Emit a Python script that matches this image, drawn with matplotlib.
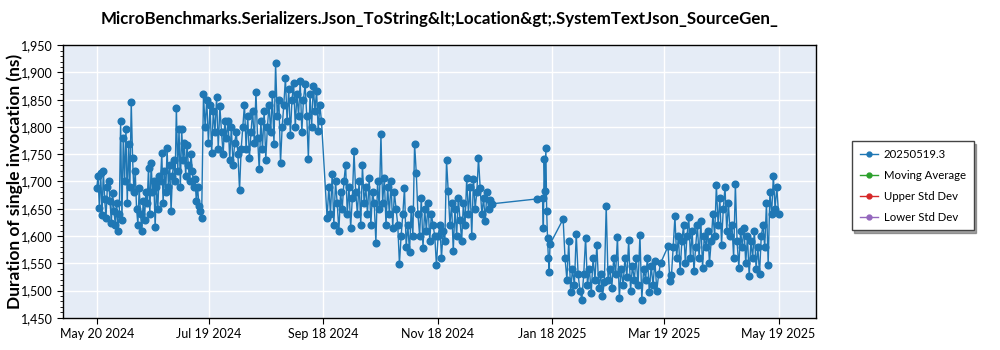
import matplotlib.pyplot as plt
import matplotlib.dates as mdates
import matplotlib.ticker as mticker
from matplotlib.lines import Line2D
import pandas as pd

plt.rcParams['font.family'] = ['Lato', 'DejaVu Sans']

title = "MicroBenchmarks.Serializers.Json_ToString&lt;Location&gt;.SystemTextJson_SourceGen_"
series_name = "20250519.3"
legend_names = ["20250519.3", "Moving Average", "Upper Std Dev", "Lower Std Dev"]
legend_colors = ["#1f77b4", "#2ca02c", "#d62728", "#9467bd"]

# period bounds (start, end) of each run of results
periods = [
    ("2024-05-20", "2024-07-15"),
    ("2024-07-16", "2024-09-17"),
    ("2024-09-20", "2024-12-17"),
    ("2025-01-10", "2025-01-10"),
    ("2025-01-13", "2025-01-17"),
    ("2025-01-24", "2025-03-17"),
    ("2025-03-21", "2025-05-19"),
]

vals_may_jul = [
    1688, 1710, 1652, 1716, 1639, 1719, 1667, 1633, 1690, 1700,
    1665, 1624, 1679, 1645, 1621, 1660, 1609, 1640, 1811, 1630,
    1780, 1700, 1796, 1660, 1769, 1690, 1846, 1743, 1680, 1720, 1650,
    1621, 1688, 1640, 1609, 1665, 1630, 1680,
    1660, 1725, 1640, 1734, 1680, 1700, 1616, 1690, 1650, 1710,
    1700, 1753, 1660, 1720, 1680, 1761, 1690, 1730, 1645, 1710,
    1740, 1700, 1835, 1720, 1796, 1690, 1796, 1740, 1771, 1710, 1767, 1730, 1700, 1750,
    1720, 1690, 1705, 1665, 1690, 1655, 1645, 1633,
]

vals_jul_sep = [
    1860, 1800, 1850, 1770, 1840, 1752, 1830, 1790, 1855, 1760, 1838, 1790, 1750, 1810,
    1780, 1811, 1740, 1800, 1731, 1770, 1790, 1750, 1684, 1760,
    1800, 1841, 1760, 1820, 1743, 1790, 1830, 1770,
    1865, 1780, 1722, 1810, 1760, 1830, 1740, 1800,
    1840, 1790, 1860, 1768, 1917, 1820, 1850, 1734, 1800,
    1840, 1890, 1810, 1870, 1786, 1850, 1880, 1800, 1860, 1820, 1885, 1790, 1850,
    1878, 1820, 1742, 1860, 1800, 1875, 1830, 1866, 1793, 1840, 1810,
]

vals_sep_dec = [
    1633, 1690, 1640, 1713, 1620, 1700, 1660, 1609, 1680, 1650,
    1700, 1731, 1640, 1690, 1615, 1670, 1755,
    1680, 1640, 1700, 1620, 1730, 1660,
    1690, 1640, 1707, 1620, 1680, 1660, 1588, 1700, 1650,
    1787,
    1660, 1707, 1620, 1690, 1640, 1700, 1615, 1680, 1650,
    1620, 1549, 1600, 1640, 1688, 1580, 1620, 1570, 1650, 1600,
    1769, 1716,
    1640, 1600, 1670, 1578, 1650, 1610, 1660, 1590, 1640, 1620, 1600,
    1546,
    1600, 1621, 1560, 1610, 1590,
    1739,
    1682, 1620, 1660, 1572, 1650, 1600, 1670, 1630, 1590, 1660, 1620,
    1707, 1640, 1690, 1600, 1705, 1650, 1680,
    1743,
    1688, 1640, 1670, 1627, 1680, 1650, 1666, 1659,
]

vals_jan_single = [1668]

vals_jan_cluster = [1670, 1615, 1742, 1682, 1761, 1645, 1596, 1560, 1534, 1585]

vals_jan_mar = [
    1631,
    1560, 1520, 1590, 1498, 1540, 1510, 1604, 1530, 1500,
    1483, 1530, 1597, 1510, 1540, 1495, 1560, 1520, 1584, 1505, 1530, 1490, 1515,
    1655,
    1520, 1540, 1505, 1560, 1530, 1598, 1486, 1540, 1510, 1560, 1525, 1592, 1500, 1545, 1520, 1560, 1510,
    1602, 1483,
    1540, 1520, 1560, 1498, 1545, 1510, 1555, 1500, 1530, 1550,
]

vals_mar_may = [
    1581, 1518, 1529,
    1580, 1636, 1560, 1600, 1535, 1590, 1620, 1550,
    1600, 1635, 1560, 1609, 1535, 1580,
    1620, 1560, 1627, 1541, 1600, 1580, 1610, 1550, 1590,
    1640, 1600, 1693, 1620, 1670, 1584, 1650, 1690, 1610, 1660,
    1600, 1621, 1560, 1695, 1590, 1542, 1610,
    1580, 1615, 1550, 1600, 1526, 1590, 1560, 1610, 1540, 1580, 1530, 1600,
    1620, 1580, 1660, 1547, 1680, 1640, 1710, 1650, 1690, 1640,
]

xtick_dates = ["2024-05-20", "2024-07-19", "2024-09-18", "2024-11-18",
               "2025-01-18", "2025-03-19", "2025-05-19"]

all_vals = [vals_may_jul, vals_jul_sep, vals_sep_dec, vals_jan_single,
            vals_jan_cluster, vals_jan_mar, vals_mar_may]

dates = []
values = []
for (start, end), v in zip(periods, all_vals):
    dates.extend(pd.date_range(start, end, periods=len(v)))
    values.extend(v)

fig = plt.figure(figsize=(10, 3.5), dpi=100)
ax = fig.add_axes([0.063, 0.092, 0.753, 0.779])
ax.set_facecolor("#E5ECF6")

ax.plot(dates, values, color="#1f77b4", lw=1, marker="o", ms=4.8, zorder=3)

ax.set_ylim(1450, 1950)
ax.set_xlim(pd.Timestamp("2024-05-02"), pd.Timestamp("2025-06-08"))
ax.yaxis.set_major_locator(mticker.MultipleLocator(50))
ax.yaxis.set_minor_locator(mticker.MultipleLocator(10))
ax.yaxis.set_major_formatter(mticker.FuncFormatter(lambda v, p: f"{v:,.0f}"))
ax.set_xticks([pd.Timestamp(d) for d in xtick_dates])
ax.xaxis.set_major_formatter(mdates.DateFormatter("%b %d %Y"))
ax.grid(True, color="white", lw=1)
ax.set_axisbelow(True)
for s in ax.spines.values():
    s.set_color("black")
    s.set_linewidth(1)
ax.tick_params(axis="both", labelsize=9, length=4, color="black")
ax.tick_params(axis="y", which="minor", length=2)

ax.set_ylabel("Duration of single invocation (ns)", fontsize=12.5, fontweight="bold", labelpad=-2)
fig.suptitle(title, x=0.44, y=0.968, fontsize=12.2, fontweight="bold")

handles = [Line2D([0], [0], color=c, lw=1, marker="o", ms=3.5) for c in legend_colors]
leg = fig.legend(handles, legend_names, loc="upper left", bbox_to_anchor=(0.846, 0.612),
                 fontsize=8.2, frameon=True, fancybox=False, shadow=True,
                 edgecolor="#444444", handlelength=1.6, handletextpad=0.5,
                 labelspacing=0.85, borderpad=0.7)
leg.get_frame().set_linewidth(1)

fig.savefig("out.png", dpi=100)
